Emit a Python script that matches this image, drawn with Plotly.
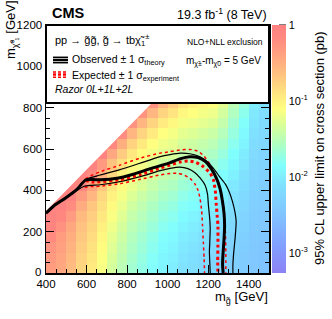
import numpy as np
import plotly.graph_objects as go

# ---------------- data ----------------
mg_centers = [425, 475, 525, 575, 625, 675, 725, 775, 825, 875, 925, 975,
              1025, 1075, 1125, 1175, 1225, 1275, 1325, 1375, 1425, 1475]
mlsp_centers = [25, 75, 125, 175, 225, 275, 325, 375, 425, 475, 525, 575,
                625, 675, 725, 775, 825]

# log10 of 95% CL upper limit on cross section (pb), rows = mLSP bins, cols = mgluino bins
log10_limit_pb = [
 [-0.34,-0.44,-0.59,-0.79,-0.94,-1.14,-1.34,-1.49,-1.64,-1.74,-1.84,-1.94,-1.99,-2.09,-2.14,-2.19,-2.24,-2.29,-2.34,-2.39,-2.44,-2.49],
 [-0.32,-0.42,-0.57,-0.77,-0.92,-1.12,-1.32,-1.47,-1.62,-1.72,-1.82,-1.92,-1.97,-2.07,-2.12,-2.17,-2.22,-2.27,-2.33,-2.38,-2.44,-2.49],
 [-0.28,-0.38,-0.53,-0.73,-0.88,-1.08,-1.28,-1.43,-1.58,-1.68,-1.78,-1.88,-1.93,-2.03,-2.08,-2.13,-2.18,-2.24,-2.30,-2.36,-2.42,-2.48],
 [-0.19,-0.34,-0.49,-0.69,-0.84,-1.04,-1.24,-1.39,-1.54,-1.64,-1.74,-1.84,-1.89,-1.99,-2.04,-2.09,-2.14,-2.20,-2.27,-2.33,-2.41,-2.46],
 [-0.07,-0.24,-0.44,-0.64,-0.79,-0.99,-1.19,-1.34,-1.49,-1.59,-1.69,-1.79,-1.84,-1.94,-1.99,-2.04,-2.09,-2.16,-2.23,-2.30,-2.39,-2.44],
 [-0.05,-0.11,-0.33,-0.58,-0.73,-0.93,-1.13,-1.28,-1.43,-1.53,-1.63,-1.73,-1.78,-1.88,-1.93,-1.98,-2.03,-2.10,-2.18,-2.27,-2.36,-2.42],
 [-0.05,-0.05,-0.20,-0.47,-0.67,-0.87,-1.07,-1.22,-1.37,-1.47,-1.57,-1.67,-1.72,-1.82,-1.87,-1.92,-1.97,-2.05,-2.14,-2.23,-2.34,-2.40],
 [-0.05,-0.05,-0.05,-0.33,-0.55,-0.80,-1.00,-1.15,-1.30,-1.40,-1.50,-1.60,-1.65,-1.75,-1.80,-1.85,-1.90,-1.98,-2.09,-2.19,-2.31,-2.38],
 [-0.05,-0.05,-0.05,-0.12,-0.40,-0.67,-0.92,-1.07,-1.22,-1.32,-1.42,-1.52,-1.57,-1.67,-1.72,-1.77,-1.82,-1.91,-2.03,-2.14,-2.28,-2.35],
 [-0.05,-0.05,-0.05,-0.05,-0.20,-0.53,-0.80,-1.00,-1.15,-1.25,-1.35,-1.45,-1.50,-1.60,-1.65,-1.70,-1.75,-1.85,-1.97,-2.10,-2.25,-2.32],
 [-0.05,-0.05,-0.05,-0.05,-0.05,-0.32,-0.65,-0.87,-1.07,-1.17,-1.27,-1.37,-1.42,-1.52,-1.57,-1.62,-1.67,-1.78,-1.91,-2.05,-2.22,-2.30],
 [-0.05,-0.05,-0.05,-0.05,-0.05,-0.05,-0.43,-0.71,-0.93,-1.08,-1.18,-1.28,-1.33,-1.43,-1.48,-1.53,-1.58,-1.70,-1.85,-2.00,-2.18,-2.27],
 [-0.05,-0.05,-0.05,-0.05,-0.05,-0.05,-0.14,-0.49,-0.77,-0.94,-1.09,-1.19,-1.24,-1.34,-1.39,-1.44,-1.49,-1.62,-1.78,-1.94,-2.15,-2.23],
 [-0.05,-0.05,-0.05,-0.05,-0.05,-0.05,-0.05,-0.20,-0.55,-0.78,-0.95,-1.10,-1.15,-1.25,-1.30,-1.35,-1.40,-1.53,-1.71,-1.89,-2.11,-2.20],
 [-0.05,-0.05,-0.05,-0.05,-0.05,-0.05,-0.05,-0.05,-0.25,-0.55,-0.78,-0.95,-1.05,-1.15,-1.20,-1.25,-1.30,-1.44,-1.64,-1.83,-2.07,-2.17],
 [-0.05,-0.05,-0.05,-0.05,-0.05,-0.05,-0.05,-0.05,-0.05,-0.25,-0.55,-0.78,-0.90,-1.05,-1.10,-1.15,-1.20,-1.35,-1.56,-1.77,-2.03,-2.13],
 [-0.05,-0.05,-0.05,-0.05,-0.05,-0.05,-0.05,-0.05,-0.05,-0.05,-0.25,-0.55,-0.73,-0.90,-1.00,-1.05,-1.10,-1.26,-1.49,-1.71,-1.99,-2.10],
]

# exclusion contours (mgluino, mLSP) in GeV
obs_mg   = [400, 445, 495, 550, 595, 630, 670, 750, 830, 915, 1010, 1060, 1110, 1150, 1185, 1215, 1240, 1258, 1270, 1278, 1281, 1278, 1273, 1271, 1274]
obs_mlsp = [290, 330, 362, 402, 450, 452, 451, 458, 478, 505, 533, 552, 562, 558, 540, 505, 460, 410, 350, 290, 230, 160, 90, 40, 0]

obs_up_mg   = [400, 445, 495, 550, 595, 620, 667, 765, 860, 963, 1012, 1062, 1110, 1160, 1200, 1226, 1255, 1285, 1305, 1320, 1333, 1338, 1333, 1326, 1322, 1322]
obs_up_mlsp = [292, 332, 364, 404, 452, 462, 474, 500, 530, 563, 573, 580, 577, 562, 535, 506, 468, 430, 390, 345, 290, 248, 170, 100, 40, 0]

obs_dn_mg   = [400, 445, 495, 550, 588, 620, 667, 765, 860, 963, 1012, 1060, 1100, 1135, 1160, 1185, 1197, 1201, 1207, 1210, 1208, 1206, 1208, 1210]
obs_dn_mlsp = [288, 328, 360, 398, 420, 424, 427, 442, 465, 495, 506, 512, 505, 485, 460, 425, 380, 329, 270, 216, 150, 103, 50, 0]

exp_mg   = [595, 630, 667, 765, 860, 963, 1012, 1060, 1100, 1140, 1175, 1210, 1226, 1235, 1240, 1244, 1248, 1248, 1247, 1248]
exp_mlsp = [448, 440, 441, 452, 475, 508, 522, 537, 542, 535, 515, 483, 450, 400, 330, 280, 232, 135, 60, 0]

exp_up_mg   = [595, 620, 667, 765, 860, 963, 1012, 1060, 1110, 1150, 1180, 1210, 1235, 1255, 1270, 1280, 1285, 1287, 1287]
exp_up_mlsp = [455, 470, 490, 522, 555, 580, 587, 595, 598, 590, 565, 525, 470, 420, 360, 290, 200, 100, 0]

exp_dn_mg   = [590, 620, 667, 765, 860, 963, 1012, 1050, 1080, 1110, 1135, 1150, 1160, 1168, 1172, 1176, 1180, 1182]
exp_dn_mlsp = [415, 418, 420, 432, 452, 475, 482, 483, 475, 458, 430, 400, 360, 300, 230, 150, 70, 0]

x_tick_vals = [400, 600, 800, 1000, 1200, 1400]
y_tick_vals = [200, 400, 600, 800, 1000, 1200]
cbar_major_vals = [-3, -2, -1, 0]
cbar_major_text = ["10<sup>-3</sup>", "10<sup>-2</sup>", "10<sup>-1</sup>", "1"]

# ---------------- style ----------------
FONT = "Liberation Sans, Arial, Helvetica, sans-serif"
ZMIN, ZMAX = -3.26, 0.0
X_RANGE = [400, 1500]
Y_RANGE = [0, 1200]
KIN_OFFSET = 100  # kinematic boundary mLSP = mgluino - offset

L, R, T, B = 46, 63, 25, 46
W, H = 332, 319
PW, PH = W - L - R, H - T - B


def xp(px):
    return (px - L) / PW


def yp(py):
    return (H - B - py) / PH


def cpos(v):
    return (v - ZMIN) / (ZMAX - ZMIN)


stops = [(-3.26, "rgb(140,130,245)"), (-2.9, "rgb(130,160,255)"), (-2.5, "rgb(128,195,255)"),
         (-2.1, "rgb(128,225,255)"), (-1.85, "rgb(128,255,255)"), (-1.6, "rgb(170,255,200)"),
         (-1.3, "rgb(220,255,150)"), (-1.1, "rgb(255,255,128)"), (-0.8, "rgb(255,215,128)"),
         (-0.5, "rgb(255,175,128)"), (-0.2, "rgb(255,140,128)"), (0.0, "rgb(255,128,128)")]
colorscale = [[cpos(v), c] for v, c in stops]

cbar_minor_vals = []
for dec in [-4, -3, -2, -1]:
    for k in range(2, 10):
        v = float(np.log10(k * 10.0 ** dec))
        if v > ZMIN:
            cbar_minor_vals.append(v)

fig = go.Figure()

fig.add_trace(go.Heatmap(
    x=mg_centers, y=mlsp_centers, z=log10_limit_pb,
    zmin=ZMIN, zmax=ZMAX, colorscale=colorscale, hoverinfo="skip",
    colorbar=dict(
        thickness=14, thicknessmode="pixels", len=1, lenmode="fraction",
        x=xp(272), xanchor="left", xpad=0, y=0.5, yanchor="middle", ypad=0,
        outlinewidth=0, tickmode="array", tickvals=cbar_major_vals, ticktext=cbar_major_text,
        ticks="", ticklabelposition="outside",
        tickfont=dict(family=FONT, size=11, color="black"),
    ),
))

# white mask above kinematic boundary
fig.add_trace(go.Scatter(
    x=[X_RANGE[0], Y_RANGE[1] + KIN_OFFSET, X_RANGE[0], X_RANGE[0]],
    y=[X_RANGE[0] - KIN_OFFSET, Y_RANGE[1], Y_RANGE[1], X_RANGE[0] - KIN_OFFSET],
    mode="lines", fill="toself", fillcolor="white", line=dict(width=0, color="white"),
    hoverinfo="skip", showlegend=False,
))

curves = [
    (exp_dn_mg, exp_dn_mlsp, "red", 1.5, "3px,3px"),
    (exp_up_mg, exp_up_mlsp, "red", 1.5, "3px,3px"),
    (obs_dn_mg, obs_dn_mlsp, "black", 1.2, "solid"),
    (obs_up_mg, obs_up_mlsp, "black", 1.2, "solid"),
    (exp_mg, exp_mlsp, "red", 3, "3px,3px"),
    (obs_mg, obs_mlsp, "black", 3, "solid"),
]
for xs, ys, col, w, dash in curves:
    fig.add_trace(go.Scatter(x=xs, y=ys, mode="lines",
                             line=dict(color=col, width=w, dash=dash, shape="spline", smoothing=0.5),
                             hoverinfo="skip", showlegend=False))

axis_common = dict(showgrid=False, zeroline=False, showline=True, linecolor="black", linewidth=1.5,
                   mirror="ticks", ticks="inside", ticklen=8, tickwidth=1, tickcolor="black",
                   automargin=False,
                   tickfont=dict(family=FONT, size=11.5, color="black"))
fig.update_xaxes(range=X_RANGE, tickvals=x_tick_vals,
                 minor=dict(dtick=50, tick0=400, ticks="inside", ticklen=4, tickcolor="black"),
                 **axis_common)
fig.update_yaxes(range=Y_RANGE, tickvals=y_tick_vals,
                 minor=dict(dtick=50, tick0=0, ticks="inside", ticklen=4, tickcolor="black"),
                 **axis_common)

shapes = []
# colorbar ticks (drawn on the right edge of the bar, pointing inwards)
for v in cbar_major_vals:
    shapes.append(dict(type="line", xref="paper", yref="paper", x0=xp(279), x1=xp(286), y0=cpos(v), y1=cpos(v),
                       line=dict(color="black", width=1), layer="above"))
for v in cbar_minor_vals:
    shapes.append(dict(type="line", xref="paper", yref="paper", x0=xp(282.5), x1=xp(286), y0=cpos(v), y1=cpos(v),
                       line=dict(color="black", width=1), layer="above"))
# legend box
shapes.append(dict(type="rect", xref="paper", yref="paper", x0=0, x1=1, y0=yp(103), y1=1,
                   fillcolor="white", line=dict(color="black", width=2), layer="above"))
# legend symbols: observed
for py, w in [(57.3, 1.5), (60, 2.5), (62.7, 1.5)]:
    shapes.append(dict(type="line", xref="paper", yref="paper", x0=xp(53), x1=xp(68), y0=yp(py), y1=yp(py),
                       line=dict(color="black", width=w), layer="above"))
# legend symbols: expected
for py, w in [(72, 1.5), (74.5, 2.5), (77.2, 1.5)]:
    shapes.append(dict(type="line", xref="paper", yref="paper", x0=xp(53), x1=xp(68), y0=yp(py), y1=yp(py),
                       line=dict(color="red", width=w, dash="3px,2px"), layer="above"))

chi = "\u03c7\u0303"
gl = "g\u0303"


def ann(text, px, py, size, xanchor="left", **kw):
    d = dict(text=text, xref="paper", yref="paper", x=xp(px), y=yp(py), xanchor=xanchor, yanchor="middle",
             showarrow=False, font=dict(family=FONT, size=size, color="black"))
    d.update(kw)
    return d


annotations = [
    ann("<b>CMS</b>", 50, 13.5, 14.5),
    ann("19.3 fb<sup>-1</sup> (8 TeV)", 269, 14, 12.5, xanchor="right"),
    ann("0", 43, 272, 11.5, xanchor="right"),
    ann(f"m<sub>{gl}</sub> [GeV]", 270, 297, 13, xanchor="right"),
    ann(f"m<sub>{chi}⁰₁</sub> [GeV]", 12, 30, 13, xanchor="center", textangle=-90),
    ann("95% CL upper limit on cross section (pb)", 319, 148, 13, xanchor="center", textangle=-90),
    ann(f"pp → {gl}{gl}, {gl} → tb{chi}<sub>1</sub><sup>±</sup>", 53, 40, 11),
    ann("NLO+NLL exclusion", 265, 42, 8.5, xanchor="right"),
    ann("Observed ± 1 σ<sub>theory</sub>", 70, 60, 10.5),
    ann(f"m<sub>{chi}±</sub>-m<sub>{chi}0</sub> = 5 GeV", 263, 62, 10, xanchor="right"),
    ann("Expected ± 1 σ<sub>experiment</sub>", 70, 76, 10.5),
    ann("<i>Razor 0L+1L+2L</i>", 53, 89, 10.5),
]

fig.update_layout(
    width=W, height=H, margin=dict(l=L, r=R, t=T, b=B, pad=0, autoexpand=False),
    paper_bgcolor="white", plot_bgcolor="white",
    shapes=shapes, annotations=annotations, showlegend=False,
    font=dict(family=FONT, color="black"),
)

fig.write_html("out.html",
               config={"displayModeBar": False, "staticPlot": True},
               post_script="document.body.style.margin='0';document.body.style.padding='0';"
                           "document.documentElement.style.overflow='hidden';")
